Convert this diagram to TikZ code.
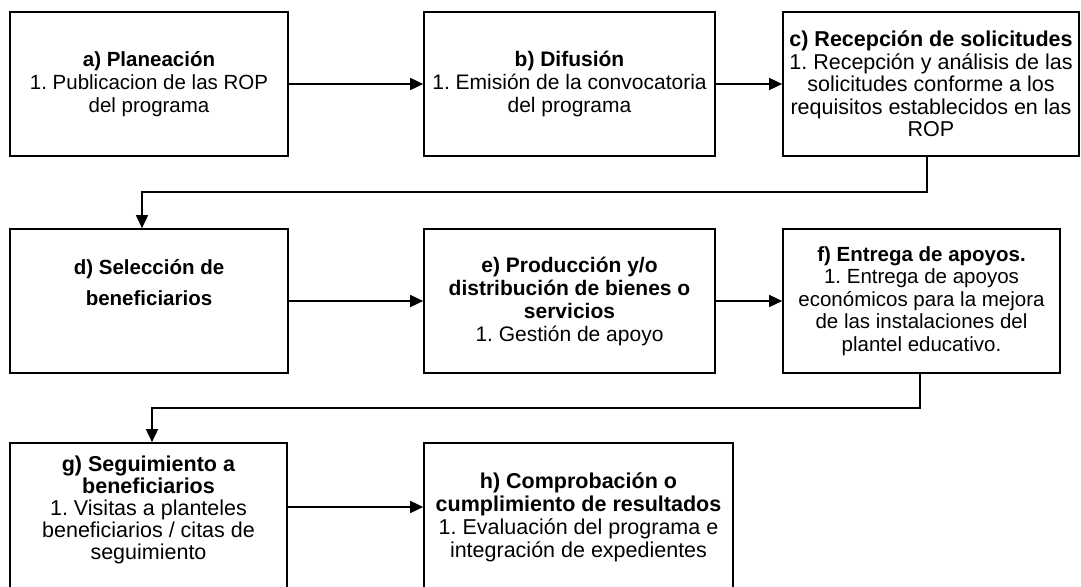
\documentclass[tikz,border=0pt]{standalone}
\usepackage{fontspec}
\setmainfont{Liberation Sans}
\usetikzlibrary{arrows.meta}
\begin{document}
\frenchspacing
\begin{tikzpicture}[x=1pt,y=-1pt,
  box/.style={draw,line width=1.7pt,inner sep=0pt,align=center,font=\fontsize{21}{23}\selectfont},
  txt/.style={inner sep=0pt,align=center},
  arr/.style={line width=1.7pt,-{Triangle[length=13pt,width=12pt]}}]
\useasboundingbox (0,0) rectangle (1081,586);
\begin{scope}
\clip (0,0) rectangle (1081,586);
\node[box,minimum width=278pt,minimum height=144pt,font=\fontsize{20.5}{23}\selectfont] (a) at (149,84)
  {\textbf{a) Planeación}\\1. Publicacion de las ROP\\del programa};
\node[box,minimum width=291pt,minimum height=144pt] (b) at (569.5,84)
  {\textbf{b) Difusión}\\1. Emisión de la convocatoria\\del programa};
\node[box,minimum width=296pt,minimum height=144pt,font=\fontsize{21.5}{22.5}\selectfont] (c) at (931,84)
  {\textbf{c) Recepción de solicitudes}\\1. Recepción y análisis de las\\solicitudes conforme a los\\requisitos establecidos en las\\ROP};
\node[box,minimum width=278pt,minimum height=144pt] (d) at (149,301) {};
\node[txt,font=\fontsize{20.5}{31}\selectfont] (dtext) at (149,283)
  {\textbf{d) Selección de}\\\textbf{beneficiarios}};
\node[box,minimum width=291pt,minimum height=144pt] (e) at (569.5,301)
  {\textbf{e) Producción y/o}\\\textbf{distribución de bienes o}\\\textbf{servicios}\\1. Gestión de apoyo};
\node[box,minimum width=277pt,minimum height=144pt,font=\fontsize{20.5}{22.5}\selectfont] (f) at (921.5,301)
  {\textbf{f) Entrega de apoyos.}\\1. Entrega de apoyos\\económicos para la mejora\\de las instalaciones del\\plantel educativo.};
\node[box,minimum width=277pt,minimum height=149pt] (g) at (148.5,517.5) {};
\node[txt,font=\fontsize{21.5}{22}\selectfont] (gtext) at (148.5,510)
  {\textbf{g) Seguimiento a}\\\textbf{beneficiarios}\\1. Visitas a planteles\\beneficiarios / citas de\\seguimiento};
\node[box,minimum width=309pt,minimum height=149pt,font=\fontsize{21.5}{23}\selectfont] (h) at (578.5,517.5)
  {\textbf{h) Comprobación o}\\\textbf{cumplimiento de resultados}\\1. Evaluación del programa e\\integración de expedientes};
\coordinate (cd) at (0,192);
\coordinate (fg) at (0,408);
\coordinate (gh) at (0,507);
\draw[arr] (a.east) -- (b.west);
\draw[arr] (b.east) -- (c.west);
\draw[arr] ([xshift=-4pt]c.south) -- ([xshift=-4pt]c.south |- cd) -| ([xshift=-7pt]d.north);
\draw[arr] (d.east) -- (e.west);
\draw[arr] (e.east) -- (f.west);
\draw[arr] ([xshift=-1.5pt]f.south) -- ([xshift=-1.5pt]f.south |- fg) -| ([xshift=3.5pt]g.north);
\draw[arr] (g.east |- gh) -- (h.west |- gh);
\end{scope}
\end{tikzpicture}
\end{document}
